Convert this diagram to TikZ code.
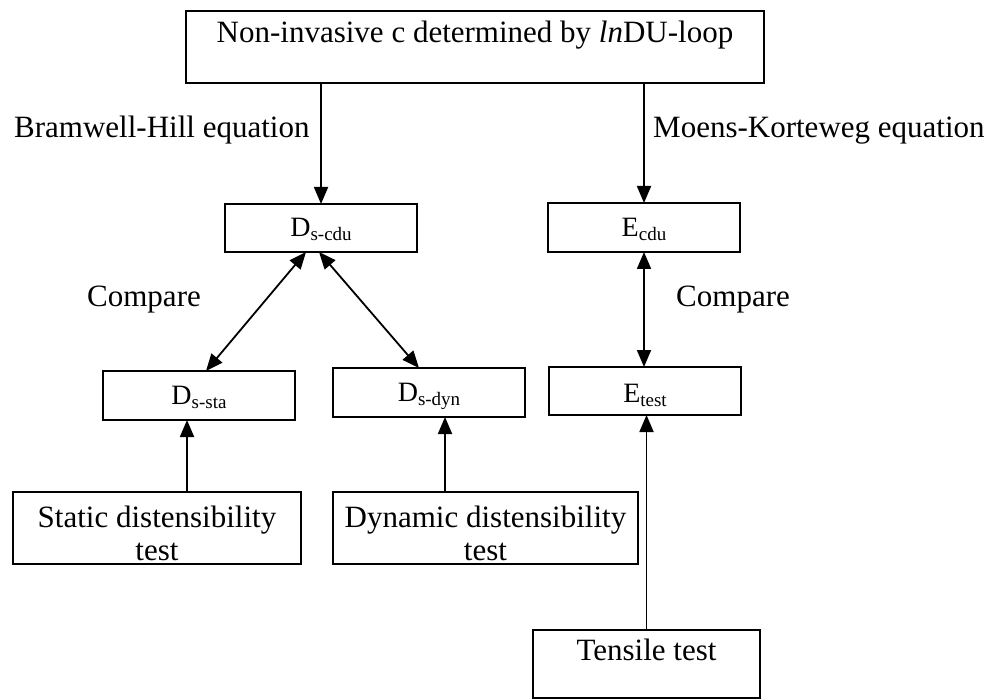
\documentclass[tikz,border=0pt]{standalone}
\usepackage{fontspec}
\setmainfont{Liberation Serif}
\usetikzlibrary{arrows.meta,calc}
\newcommand\lowsub[1]{\raisebox{-4pt}{\fontsize{19}{19}\selectfont #1}}
\begin{document}
\begin{tikzpicture}[x=1pt,y=-1pt,
  box/.style={draw, line width=1.8pt, rectangle, inner sep=0pt, outer sep=0pt},
  arr/.style={line width=1.8pt, -{Triangle[length=17pt,width=14pt]}},
  darr/.style={line width=1.8pt, {Triangle[length=17pt,width=14pt]}-{Triangle[length=17pt,width=14pt]}},
  big/.style={font=\fontsize{31}{35}\selectfont, inner sep=0pt, anchor=base},
  lab/.style={font=\fontsize{28}{32}\selectfont, inner sep=0pt, anchor=base}]
\useasboundingbox (0,0) rectangle (1003,700);

% boxes
\node[box, minimum width=578pt, minimum height=72pt] (top) at (475,47) {};
\node[box, minimum width=192pt, minimum height=48pt] (dscdu) at (321,228) {};
\node[box, minimum width=192pt, minimum height=49pt] (ecdu) at (644,227.5) {};
\node[box, minimum width=192pt, minimum height=49pt] (dssta) at (199,395.5) {};
\node[box, minimum width=192pt, minimum height=49pt] (dsdyn) at (429,392.5) {};
\node[box, minimum width=192pt, minimum height=48pt] (etest) at (645,391) {};
\node[box, minimum width=288pt, minimum height=72pt] (static) at (157,528) {};
\node[box, minimum width=305pt, minimum height=72pt] (dynamic) at (485.5,528) {};
\node[box, minimum width=227pt, minimum height=68pt] (tensile) at (646.5,664) {};

% texts
\node[big] (toptxt) at (475,43) {Non-invasive c determined by \textit{ln}DU-loop};
\node[big, anchor=base west] (bh) at (14,138) {Bramwell-Hill equation};
\node[big, anchor=base west] (mk) at (653,138) {Moens-Korteweg equation};
\node[big, anchor=base west] (cmpl) at (87,307) {Compare};
\node[big, anchor=base west] (cmpr) at (676,307) {Compare};
\node[lab] (dscdutxt) at (321,237) {D\lowsub{s-cdu}};
\node[lab] (ecdutxt) at (644,237) {E\lowsub{cdu}};
\node[lab] (dsstatxt) at (199,404) {D\lowsub{s-sta}};
\node[lab] (dsdyntxt) at (429,401) {D\lowsub{s-dyn}};
\node[lab] (etesttxt) at (645,402) {E\lowsub{test}};
\node[big] (statictxt) at (157,527) {Static distensibility};
\node[big] (statictxt2) at (157,560) {test};
\node[big] (dyntxt) at (485.5,527) {Dynamic distensibility};
\node[big] (dyntxt2) at (485.5,560) {test};
\node[big] (tensiletxt) at (646.5,660) {Tensile test};

% connectors
\draw[arr] (dscdu.north |- top.south) -- (dscdu.north);
\draw[arr] (ecdu.north |- top.south) -- (ecdu.north);
\draw[darr] ($(dscdu.south)+(-15,0)$) -- ($(dssta.north)+(7,0)$);
\draw[darr] ($(dscdu.south)+(-2,0)$) -- ($(dsdyn.north)+(-10,0)$);
\draw[darr] (ecdu.south) -- (ecdu.south |- etest.north);
\draw[arr] ($(static.north)+(30,0)$) -- ($(dssta.south)+(-12,0)$);
\draw[arr] ($(dynamic.north)+(-40.5,0)$) -- ($(dsdyn.south)+(16,0)$);
\draw[arr] (tensile.north) -- (tensile.north |- etest.south);
\end{tikzpicture}
\end{document}
